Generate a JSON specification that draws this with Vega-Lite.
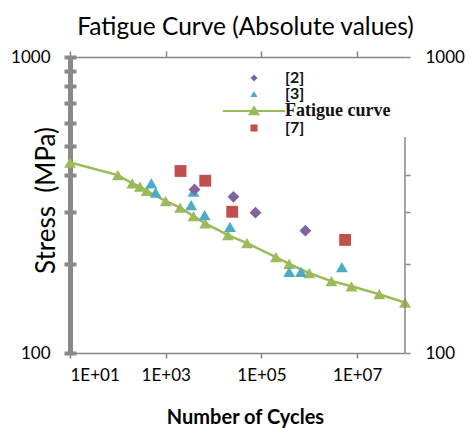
{
  "$schema": "https://vega.github.io/schema/vega-lite/v6.json",
  "width": 335,
  "height": 296,
  "autosize": {"type": "none"},
  "padding": {"left": 70, "top": 57, "right": 65, "bottom": 75},
  "background": "white",
  "config": {"view": {"stroke": null}, "font": "Lato"},
  "title": {"text": "Fatigue Curve (Absolute values)", "font": "Lato", "fontSize": 24.5, "fontWeight": "normal", "color": "#000000", "anchor": "middle", "dx": 8, "offset": 8},
  "datasets": {
    "fatigue": [
      {"series": "Fatigue curve", "cycles": 10, "stress": 440},
      {"series": "Fatigue curve", "cycles": 100, "stress": 399},
      {"series": "Fatigue curve", "cycles": 200, "stress": 374},
      {"series": "Fatigue curve", "cycles": 290, "stress": 365},
      {"series": "Fatigue curve", "cycles": 400, "stress": 353},
      {"series": "Fatigue curve", "cycles": 1000, "stress": 326},
      {"series": "Fatigue curve", "cycles": 2000, "stress": 310},
      {"series": "Fatigue curve", "cycles": 3800, "stress": 290},
      {"series": "Fatigue curve", "cycles": 6700, "stress": 274},
      {"series": "Fatigue curve", "cycles": 20000, "stress": 250},
      {"series": "Fatigue curve", "cycles": 50000, "stress": 235},
      {"series": "Fatigue curve", "cycles": 200000, "stress": 211},
      {"series": "Fatigue curve", "cycles": 380000, "stress": 200},
      {"series": "Fatigue curve", "cycles": 1000000, "stress": 186},
      {"series": "Fatigue curve", "cycles": 2900000, "stress": 175},
      {"series": "Fatigue curve", "cycles": 7600000, "stress": 168},
      {"series": "Fatigue curve", "cycles": 29000000, "stress": 158},
      {"series": "Fatigue curve", "cycles": 100000000, "stress": 148}
    ],
    "tests": [
      {"series": "[3]", "cycles": 500, "stress": 374},
      {"series": "[3]", "cycles": 615, "stress": 348},
      {"series": "[3]", "cycles": 3800, "stress": 351},
      {"series": "[3]", "cycles": 3400, "stress": 316},
      {"series": "[3]", "cycles": 6500, "stress": 292},
      {"series": "[3]", "cycles": 22000, "stress": 267},
      {"series": "[3]", "cycles": 380000, "stress": 188},
      {"series": "[3]", "cycles": 670000, "stress": 188},
      {"series": "[3]", "cycles": 4800000, "stress": 195},
      {"series": "[2]", "cycles": 4000, "stress": 357},
      {"series": "[2]", "cycles": 26000, "stress": 337},
      {"series": "[2]", "cycles": 75000, "stress": 298},
      {"series": "[2]", "cycles": 830000, "stress": 259},
      {"series": "[7]", "cycles": 2040, "stress": 412},
      {"series": "[7]", "cycles": 6700, "stress": 382},
      {"series": "[7]", "cycles": 24500, "stress": 300},
      {"series": "[7]", "cycles": 5600000, "stress": 241}
    ],
    "rightEdge": [
      {"cycles": 100000000, "stressLow": 100, "stressHigh": 537}
    ]
  },
  "layer": [
    {
      "data": {"name": "fatigue"},
      "mark": {"type": "line", "color": "#9BBB59", "strokeWidth": 2.5},
      "encoding": {
        "x": {
          "field": "cycles", "type": "quantitative",
          "scale": {"type": "log", "domain": [10, 100000000], "nice": false},
          "axis": {
            "orient": "bottom", "values": [10, 1000, 100000, 10000000],
            "labelExpr": "'1E+0' + round(log(datum.value) / LN10)",
            "grid": false, "domainColor": "#868686", "domainWidth": 1.5,
            "tickColor": "#868686", "tickWidth": 1.5, "tickSize": 5,
            "labelFont": "Lato", "labelFontSize": 17, "labelColor": "#000000", "labelPadding": 9,
            "title": "Number of Cycles", "titleFont": "Lato", "titleFontSize": 20,
            "titleFontWeight": "bold", "titleColor": "#000000",
            "titleY": 70, "titleBaseline": "alphabetic", "titleX": 175
          }
        },
        "y": {
          "field": "stress", "type": "quantitative",
          "scale": {"type": "log", "domain": [100, 1000], "nice": false},
          "axis": {
            "orient": "left", "values": [100, 200, 300, 400, 500, 600, 700, 800, 900, 1000],
            "format": "d",
            "labelExpr": "datum.value == 100 || datum.value == 1000 ? datum.label : ''",
            "grid": false, "domainColor": "#898989", "domainWidth": 5,
            "tickColor": "#898989", "tickWidth": 4, "tickSize": 6,
            "labelFont": "Lato", "labelFontSize": 17, "labelColor": "#000000", "labelPadding": 14,
            "title": "Stress\u00a0 (MPa)", "titleFont": "Lato", "titleFontSize": 26,
            "titleFontWeight": "normal", "titleColor": "#000000",
            "titleAngle": -90, "titleX": -16, "titleY": 143,
            "titleBaseline": "alphabetic", "titleAlign": "center"
          }
        }
      }
    },
    {
      "data": {"name": "fatigue"},
      "mark": {"type": "point", "shape": "triangle-up", "filled": true, "opacity": 1, "color": "#9BBB59", "size": 140},
      "encoding": {
        "x": {"field": "cycles", "type": "quantitative", "axis": null},
        "y": {
          "field": "stress", "type": "quantitative",
          "axis": {
            "orient": "left", "values": [100, 200, 300, 400, 500, 600, 700, 800, 900, 1000],
            "labels": false, "domain": false, "grid": false, "title": null,
            "tickColor": "#898989", "tickWidth": 4, "tickSize": -6
          }
        }
      }
    },
    {
      "data": {"name": "tests"},
      "mark": {"type": "point", "filled": true, "opacity": 1, "size": 140},
      "encoding": {
        "x": {
          "field": "cycles", "type": "quantitative",
          "axis": {
            "orient": "top", "values": [10, 1000, 100000, 10000000], "labels": false,
            "grid": false, "domainColor": "#868686", "domainWidth": 1.5,
            "tickColor": "#868686", "tickWidth": 1.5, "tickSize": 6, "title": null
          }
        },
        "y": {
          "field": "stress", "type": "quantitative",
          "axis": {
            "orient": "right", "values": [100, 200, 300, 400, 1000],
            "format": "d",
            "labelExpr": "datum.value == 100 || datum.value == 1000 ? datum.label : ''",
            "grid": false, "domain": false,
            "tickColor": "#898989", "tickWidth": 1.5, "tickSize": 5,
            "labelFont": "Lato", "labelFontSize": 17, "labelColor": "#000000", "labelPadding": 15,
            "title": null
          }
        },
        "color": {
          "field": "series", "type": "nominal",
          "scale": {"domain": ["[2]", "[3]", "Fatigue curve", "[7]"], "range": ["#8064A2", "#4BACC6", "#9BBB59", "#C0504D"]},
          "legend": {
            "orient": "none", "legendX": 172, "legendY": 9, "title": null,
            "symbolSize": 50, "labelFontSize": {"expr": "datum.value === 'Fatigue curve' ? 18 : 16"},
            "labelFont": {"expr": "datum.value === 'Fatigue curve' ? 'Liberation Serif' : 'Lato'"},
            "labelFontWeight": "bold",
            "labelColor": "#111111", "labelOffset": 23, "rowPadding": 0, "padding": 4,
            "symbolStrokeColor": {"expr": "datum.value === 'Fatigue curve' ? '#9BBB59' : 'transparent'"},
            "symbolStrokeWidth": 2
          }
        },
        "shape": {
          "field": "series", "type": "nominal",
          "scale": {"domain": ["[2]", "[3]", "Fatigue curve", "[7]"], "range": ["diamond", "triangle-up", "M-8.8,0H8.8M0,-1.1L1.2,0.95L-1.2,0.95Z", "square"]}
        }
      }
    },
    {
      "data": {"name": "rightEdge"},
      "mark": {"type": "rule", "color": "#898989", "strokeWidth": 1.5},
      "encoding": {
        "x": {"field": "cycles", "type": "quantitative", "axis": null},
        "y": {"field": "stressLow", "type": "quantitative", "axis": null},
        "y2": {"field": "stressHigh"}
      }
    }
  ],
  "resolve": {"axis": {"x": "independent", "y": "independent"}}
}
